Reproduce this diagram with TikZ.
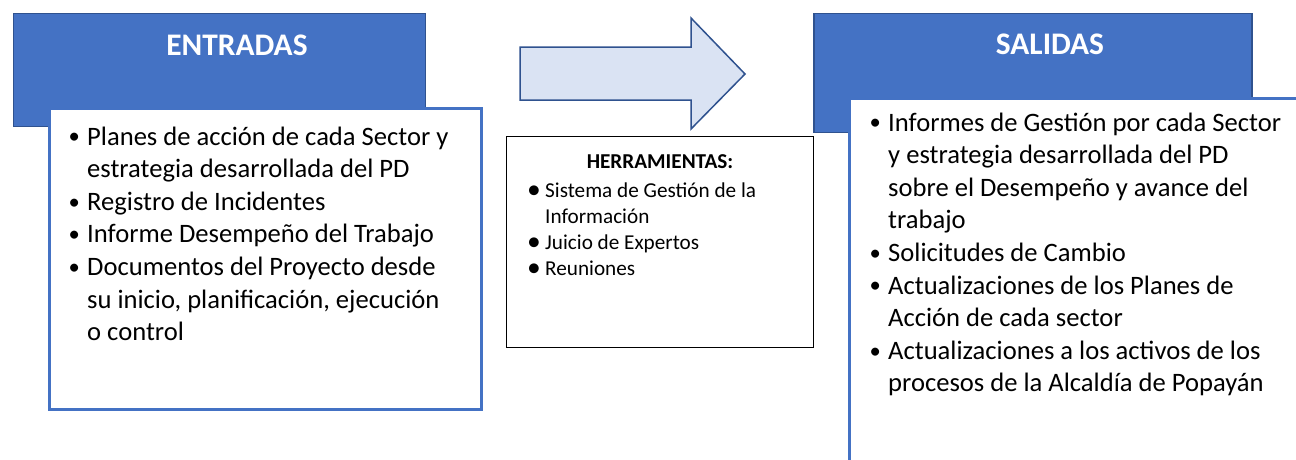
\documentclass[tikz,border=0pt]{standalone}
\usepackage{fontspec}
\usepackage{graphicx}
\setmainfont{Carlito}
\definecolor{hdrblue}{HTML}{4472C4}
\definecolor{hdrline}{HTML}{2F528F}
\definecolor{boxline}{HTML}{4472C4}
\definecolor{arrfill}{HTML}{DAE3F3}
\newcommand\bodyfont{\fontsize{26.6pt}{32.6pt}\selectfont}
\newcommand\toolfont{\fontsize{21.2pt}{26pt}\selectfont}
\newcommand\titlefont{\fontsize{31.4pt}{36pt}\selectfont\bfseries}
\newcommand\myitem[3]{\par\hangindent=#1\hangafter=1\noindent\makebox[#1][l]{#2}#3}
\newcommand\toolbullet{\raisebox{-0.09em}{\scalebox{1.3}{•}}}
\newcommand\bodybullet{\hspace{1.5pt}\raisebox{0.04em}{\scalebox{0.85}{•}}}
\begin{document}
\begin{tikzpicture}[x=1pt,y=-1pt,
  header/.style={fill=hdrblue,draw=hdrline,line width=1.5pt,inner sep=0pt,anchor=north west},
  panel/.style={fill=white,draw=boxline,line width=3.2pt,inner sep=0pt,anchor=north west},
  toolbox/.style={fill=white,draw=black,line width=1.4pt,inner sep=0pt,anchor=north west},
  titletext/.style={anchor=base,inner sep=0pt,text=white,font=\titlefont},
  listtext/.style={anchor=base west,inner sep=0pt,align=left}]
\useasboundingbox (0,0) rectangle (1296,459);
% headers
\node[header,minimum width=412pt,minimum height=113pt] (inhdr) at (12.5,12.5) {};
\node[header,minimum width=438pt,minimum height=119pt] (outhdr) at (813,12.5) {};
\node[titletext] (intitle) at (237,55) {ENTRADAS};
\node[titletext] (outtitle) at (1050,54) {SALIDAS};
% panels
\node[panel,minimum width=432pt,minimum height=301.5pt] (inpanel) at (47.5,106.5) {};
\node[panel,minimum width=470pt,minimum height=380pt] (outpanel) at (847.5,96.5) {};
% arrow
\draw[fill=arrfill,draw=hdrline,line width=1.5pt,line join=miter]
  (520,47) -- (691,47) -- (691,18) -- (745,74) -- (691,129) -- (691,100) -- (520,100) -- cycle;
% tools box
\node[toolbox,minimum width=307pt,minimum height=211pt] (tools) at (506,135.5) {};
\node[anchor=base,inner sep=0pt,font=\toolfont\bfseries] (toolhead) at (660,168) {HERRAMIENTAS:};
\node[listtext,font=\toolfont] (toollist) at (527,197) {\parbox[t]{280pt}{%
  \myitem{18pt}{\toolbullet}{Sistema de Gestión de la\newline Información}
  \myitem{18pt}{\toolbullet}{Juicio de Expertos}
  \myitem{18pt}{\toolbullet}{Reuniones}}};
% lists
\node[listtext,font=\bodyfont] (inlist) at (67,145) {\parbox[t]{420pt}{%
  \myitem{20pt}{\bodybullet}{Planes de acción de cada Sector y\newline estrategia desarrollada del PD}
  \myitem{20pt}{\bodybullet}{Registro de Incidentes}
  \myitem{20pt}{\bodybullet}{Informe Desempeño del Trabajo}
  \myitem{20pt}{\bodybullet}{Documentos del Proyecto desde\newline su inicio, planificación, ejecución\newline o control}}};
\node[listtext,font=\bodyfont] (outlist) at (868,131) {\parbox[t]{440pt}{%
  \myitem{20pt}{\bodybullet}{Informes de Gestión por cada Sector\newline y estrategia desarrollada del PD\newline sobre el Desempeño y avance del\newline trabajo}
  \myitem{20pt}{\bodybullet}{Solicitudes de Cambio}
  \myitem{20pt}{\bodybullet}{Actualizaciones de los Planes de\newline Acción de cada sector}
  \myitem{20pt}{\bodybullet}{Actualizaciones a los activos de los\newline procesos de la Alcaldía de Popayán}}};
\end{tikzpicture}
\end{document}
